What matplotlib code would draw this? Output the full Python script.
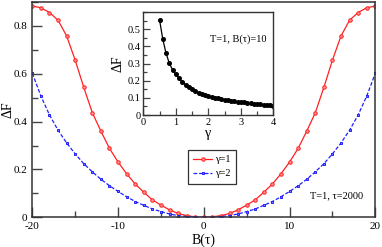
import matplotlib
matplotlib.use("Agg")
import matplotlib.pyplot as plt
import numpy as np
from matplotlib.ticker import MultipleLocator

plt.rcParams.update({
    "font.family": ["Liberation Serif", "DejaVu Serif"],
    "font.size": 8,
    "axes.unicode_minus": False,
})

# main panel: Delta F vs B(tau), symmetric about 0
b_vals = np.arange(-20, 21)
df_g1_half = [0.0, 0.002, 0.007, 0.016, 0.031, 0.051, 0.073, 0.105, 0.139, 0.182,
              0.231, 0.288, 0.360, 0.437, 0.543, 0.657, 0.758, 0.824, 0.856, 0.876, 0.883]
df_g2_half = [0.0, 0.001, 0.003, 0.007, 0.014, 0.024, 0.035, 0.050, 0.066, 0.086,
              0.108, 0.132, 0.159, 0.190, 0.224, 0.265, 0.311, 0.364, 0.428, 0.507, 0.602]
df_g1 = df_g1_half[:0:-1] + df_g1_half
df_g2 = df_g2_half[:0:-1] + df_g2_half

# inset: Delta F vs gamma at B(tau)=10
gam = np.round(np.arange(0.5, 4.01, 0.1), 1)
df_gam = [0.555, 0.441, 0.360, 0.302, 0.263, 0.237, 0.214, 0.193, 0.177, 0.163,
          0.150, 0.139, 0.130, 0.122, 0.116, 0.111, 0.105, 0.101, 0.097, 0.093,
          0.089, 0.086, 0.083, 0.080, 0.077, 0.075, 0.073, 0.071, 0.069, 0.067,
          0.065, 0.063, 0.061, 0.059, 0.057, 0.055]

fig = plt.figure(figsize=(3.82, 2.47), dpi=100)
ax = fig.add_axes([0.0846, 0.1202, 0.8979, 0.8718])
ax.plot(b_vals, df_g1, color="#ff2020", lw=0.9, marker="o", ms=2.5,
        mfc="#ff9090", mec="#ff2020", mew=0.7, label="γ=1")
ax.plot(b_vals, df_g2, color="#2020ff", lw=0.9, ls=(0, (3, 1.5)), marker="s", ms=2.1,
        mfc="#8080ff", mec="#2020ff", mew=0.7, label="γ=2")
ax.set_xlim(-20, 20)
ax.set_ylim(0, 0.9)
ax.xaxis.set_major_locator(MultipleLocator(10))
ax.xaxis.set_minor_locator(MultipleLocator(5))
ax.set_yticks([0, 0.2, 0.4, 0.6, 0.8])
ax.set_yticklabels(["0", "0.2", "0.4", "0.6", "0.8"])
ax.yaxis.set_minor_locator(MultipleLocator(0.1))
ax.tick_params(which="both", direction="in", color="#444444", width=1.0, labelsize=8)
ax.tick_params(which="major", length=7)
ax.tick_params(which="minor", length=4)
for s in ax.spines.values():
    s.set_color("#333333")
    s.set_linewidth(1.1)
ax.set_xlabel("B(τ)", fontsize=10, labelpad=2)
ax.set_ylabel("ΔF", fontsize=10)
ax.yaxis.set_label_coords(-0.052, 0.5)
leg = ax.legend(loc="upper left", bbox_to_anchor=(0.454, 0.313), fontsize=7.5,
                frameon=True, fancybox=False, edgecolor="#333333", framealpha=1,
                handlelength=1.8, handletextpad=0.3, borderpad=0.5,
                labelspacing=0.45, borderaxespad=0)
leg.get_frame().set_linewidth(0.9)
ax.text(0.965, 0.08, "T=1, τ=2000", transform=ax.transAxes, ha="right",
        va="bottom", fontsize=7.5)

# inset
ins = fig.add_axes([0.3751, 0.5344, 0.3403, 0.4170])
ins.plot(gam, df_gam, color="black", lw=0.9, marker="o", ms=2.6, mfc="black", mec="black")
ins.set_xlim(0, 4)
ins.set_ylim(0, 0.6)
ins.xaxis.set_major_locator(MultipleLocator(1))
ins.xaxis.set_minor_locator(MultipleLocator(0.5))
ins.set_yticks([0, 0.1, 0.2, 0.3, 0.4, 0.5])
ins.set_yticklabels(["0", "0.1", "0.2", "0.3", "0.4", "0.5"])
ins.yaxis.set_minor_locator(MultipleLocator(0.05))
ins.tick_params(which="both", direction="in", color="#444444", width=0.9, labelsize=7.5, pad=2)
ins.tick_params(which="major", length=5)
ins.tick_params(which="minor", length=3)
for s in ins.spines.values():
    s.set_color("#333333")
    s.set_linewidth(1.0)
ins.set_xlabel("γ", fontsize=10, labelpad=0)
ins.set_ylabel("ΔF", fontsize=10, labelpad=2)
ins.text(0.95, 0.74, "T=1, B(τ)=10", transform=ins.transAxes, ha="right",
         va="center", fontsize=7.5)

fig.savefig("out.png", dpi=100)
